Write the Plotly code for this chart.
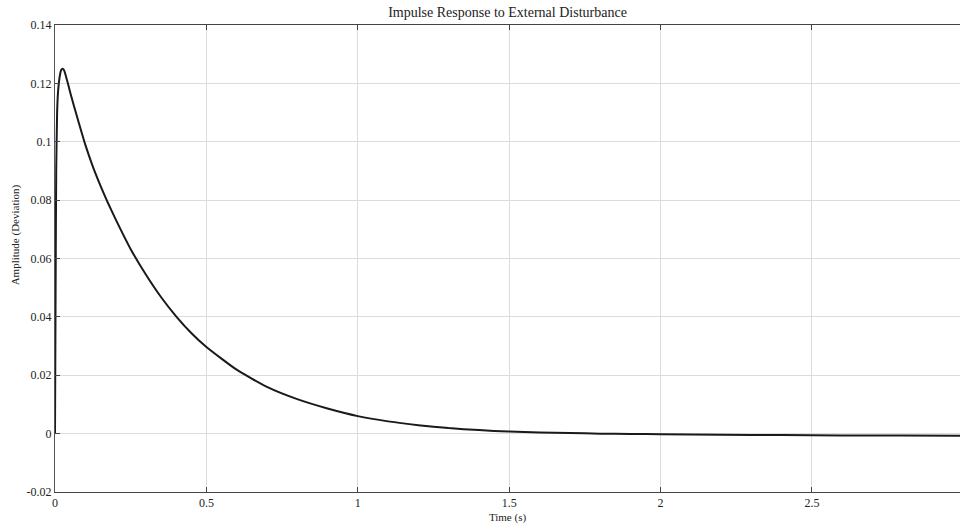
import plotly.graph_objects as go

time_s = [0, 0.002, 0.004, 0.007, 0.01, 0.015, 0.02, 0.025, 0.03, 0.04, 0.05, 0.06, 0.08,
          0.1, 0.125, 0.15, 0.175, 0.2, 0.25, 0.3, 0.35, 0.4, 0.45, 0.5, 0.6, 0.7,
          0.8, 0.9, 1.0, 1.1, 1.2, 1.3, 1.4, 1.5, 1.6, 1.7, 1.8, 1.9, 2.0, 2.2, 2.4,
          2.6, 2.8, 3.0]
amplitude = [0, 0.050, 0.090, 0.110, 0.117, 0.122, 0.1245, 0.1250, 0.1245, 0.1210, 0.1170,
             0.1132, 0.1060, 0.0990, 0.0915, 0.0850, 0.0790, 0.0735, 0.0632, 0.0545,
             0.0468, 0.0402, 0.0345, 0.0297, 0.0219, 0.0160, 0.0118, 0.0086, 0.0060,
             0.0042, 0.0029, 0.0019, 0.0012, 0.0007, 0.0004, 0.0002, 0.0000, -0.0001,
             -0.0002, -0.0004, -0.0005, -0.0006, -0.0006, -0.0007]

x_tickvals = [0, 0.5, 1, 1.5, 2, 2.5]
x_ticktext = ["0", "0.5", "1", "1.5", "2", "2.5"]
y_tickvals = [-0.02, 0, 0.02, 0.04, 0.06, 0.08, 0.1, 0.12, 0.14]
y_ticktext = ["-0.02", "0", "0.02", "0.04", "0.06", "0.08", "0.1", "0.12", "0.14"]

fig = go.Figure()
fig.add_trace(go.Scatter(x=time_s, y=amplitude, mode="lines",
                         line=dict(color="#1a1a1a", width=2, shape="spline", smoothing=0.5),
                         hoverinfo="x+y", showlegend=False))

family = "Liberation Serif, Times New Roman, serif"
font = dict(family=family, color="#222", size=12)

fig.update_layout(
    width=960, height=528,
    margin=dict(l=55, r=0, t=25, b=36),
    paper_bgcolor="white", plot_bgcolor="white",
    font=font,
    title=dict(text="Impulse Response to External Disturbance", x=0.5, xref="paper",
               xanchor="center", y=0.977, yref="container", yanchor="middle",
               font=dict(family=family, size=14, color="#222")),
    xaxis=dict(range=[0, 2.989], tickvals=x_tickvals, ticktext=x_ticktext,
               showgrid=True, gridcolor="#dcdcdc", gridwidth=1, zeroline=False,
               showline=True, linecolor="#444", linewidth=1, mirror="ticks",
               ticks="inside", ticklen=5, tickcolor="#444",
               title=dict(text="Time (s)", standoff=3, font=dict(size=11)),
               tickfont=dict(size=12)),
    yaxis=dict(range=[-0.02, 0.14], tickvals=y_tickvals, ticktext=y_ticktext,
               showgrid=True, gridcolor="#dcdcdc", gridwidth=1, zeroline=False,
               showline=True, linecolor="#555", linewidth=1,
               ticks="inside", ticklen=5, tickcolor="#444",
               tickfont=dict(size=12)),
    annotations=[dict(text="Amplitude (Deviation)", textangle=-90, showarrow=False,
                      xref="paper", yref="paper", x=-0.044, y=0.55,
                      xanchor="center", yanchor="middle",
                      font=dict(family=family, size=11, color="#222"))],
)

fig.write_html("out.html")
